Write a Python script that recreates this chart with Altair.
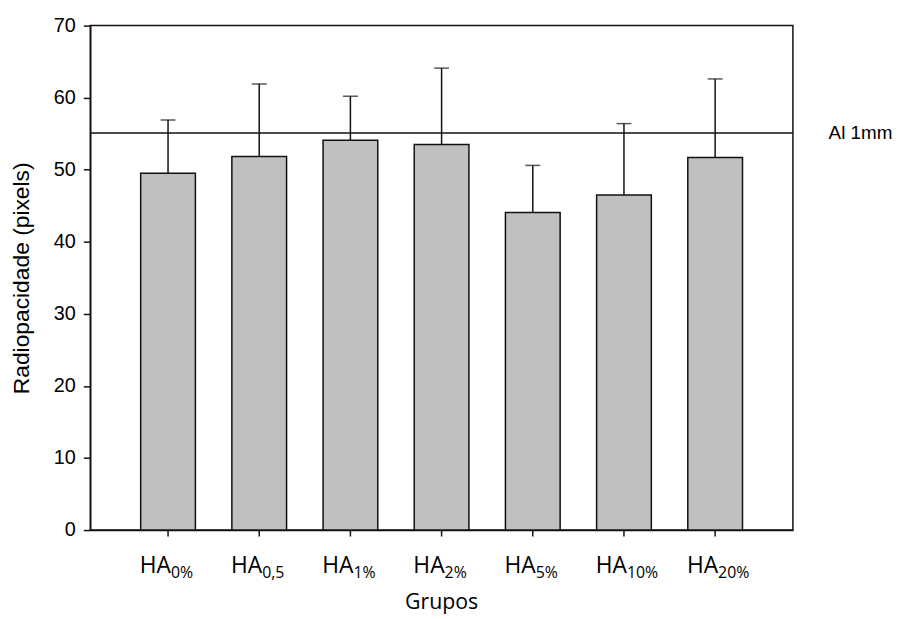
import altair as alt
import pandas as pd

groups = ["HA0%", "HA0,5", "HA1%", "HA2%", "HA5%", "HA10%", "HA20%"]
subs = ["0%", "0,5", "1%", "2%", "5%", "10%", "20%"]
means = [49.5, 51.85, 54.1, 53.5, 44.05, 46.5, 51.7]
sds = [7.4, 10.05, 6.1, 10.6, 6.55, 9.9, 10.9]
ref_value = 55.1
ref_label = "Al 1mm"
x_title = "Grupos"
y_title = "Radiopacidade (pixels)"

df = pd.DataFrame({"group": groups, "sub": subs, "mean": means, "sd": sds})
df["main"] = "HA"
ref_df = pd.DataFrame({"v": [ref_value], "label": [ref_label]})

W, H = 709, 509
LINE = "#111111"
LW = 1.5

x = alt.X(
    "group:N",
    sort=groups,
    scale=alt.Scale(paddingInner=0.4, paddingOuter=0.553),
    axis=alt.Axis(labels=False, title=None, ticks=True, tickSize=6, tickColor=LINE,
                  tickWidth=LW, domainColor=LINE, domainWidth=LW, grid=False),
)
y_scale = alt.Scale(domain=[0, 70], nice=False)

base = alt.Chart(df)

bars = base.mark_bar(color="#c0c0c0", stroke=LINE, strokeWidth=LW).encode(
    x=x,
    y=alt.Y("mean:Q", scale=y_scale,
            axis=alt.Axis(values=list(range(0, 71, 10)), title=y_title, grid=False,
                          labelFont="Liberation Sans", labelFontSize=20, labelColor="black",
                          labelPadding=8, tickSize=7, tickColor=LINE, tickWidth=LW,
                          domainColor=LINE, domainWidth=LW,
                          titleFont="Liberation Sans", titleFontSize=23, titleFontWeight="normal",
                          titleColor="black", titlePadding=20)),
)

err = base.transform_calculate(upper="datum.mean + datum.sd").mark_rule(
    color=LINE, strokeWidth=LW).encode(
    x=alt.X("group:N", sort=groups),
    y=alt.Y("mean:Q", scale=y_scale),
    y2="upper:Q",
)

caps = base.transform_calculate(upper="datum.mean + datum.sd").mark_tick(
    color=LINE, size=15, thickness=LW, orient="horizontal").encode(
    x=alt.X("group:N", sort=groups),
    y=alt.Y("upper:Q", scale=y_scale),
)

main_lbl = base.mark_text(font="Open Sans", fontSize=23, align="right", baseline="alphabetic",
                          dx=3, color="black").encode(
    x=alt.X("group:N", sort=groups),
    y=alt.value(H + 43),
    text="main:N",
)
sub_lbl = base.mark_text(font="Open Sans", fontSize=16, align="left", baseline="alphabetic",
                         dx=3, color="black").encode(
    x=alt.X("group:N", sort=groups),
    y=alt.value(H + 48),
    text="sub:N",
)

ref_rule = alt.Chart(ref_df).mark_rule(color=LINE, strokeWidth=LW).encode(
    y=alt.Y("v:Q", scale=y_scale),
)
ref_text = alt.Chart(ref_df).mark_text(font="Liberation Sans", fontSize=19, align="left",
                                       baseline="middle", color="black").encode(
    x=alt.value(745),
    y=alt.Y("v:Q", scale=y_scale),
    text="label:N",
)

xtitle = alt.Chart(ref_df).mark_text(font="Open Sans", fontSize=21.5, align="center",
                                     baseline="alphabetic", color="black").encode(
    x=alt.value(W / 2),
    y=alt.value(H + 80),
    text=alt.value(x_title),
)

chart = alt.layer(bars, err, caps, ref_rule, ref_text, main_lbl, sub_lbl, xtitle).properties(
    width=W, height=H,
    autosize=alt.AutoSizeParams(type="none"),
    padding={"left": 83, "top": 15, "right": 104, "bottom": 87},
    background="white",
).configure_view(stroke=LINE, strokeWidth=LW)

chart.save("out.html", embed_options={"renderer": "svg", "actions": False})
